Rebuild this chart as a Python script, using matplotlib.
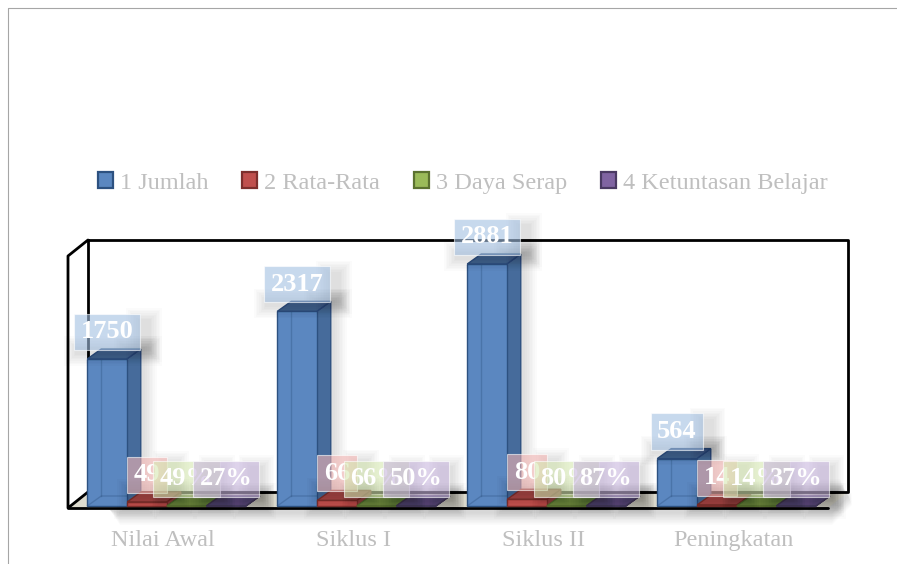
"""Clustered pseudo-3D column chart: Nilai Awal, Siklus I, Siklus II, Peningkatan."""

import matplotlib
matplotlib.use("Agg")
import matplotlib.pyplot as plt
import matplotlib.patches as mpatches

categories = ["Nilai Awal", "Siklus I", "Siklus II", "Peningkatan"]
series_names = ["1 Jumlah", "2 Rata-Rata", "3 Daya Serap", "4 Ketuntasan Belajar"]

jumlah = [1750, 2317, 2881, 564]
rata_rata = [49, 66, 80, 14]
daya_serap = [0.49, 0.66, 0.80, 0.14]
ketuntasan = [0.27, 0.50, 0.87, 0.37]

jumlah_labels = ["1750", "2317", "2881", "564"]
rata_labels = ["49", "66", "80", "14"]
daya_labels = ["49%", "66%", "80%", "14%"]
ketuntasan_labels = ["27%", "50%", "87%", "37%"]

all_values = [jumlah, rata_rata, daya_serap, ketuntasan]
all_labels = [jumlah_labels, rata_labels, daya_labels, ketuntasan_labels]

# front, side, top, edge, label box
SERIES_COLORS = [
    ("#5b87c0", "#466b9b", "#3f6491", "#2d5180", "#a3c0e2"),
    ("#c0504d", "#96403d", "#a64643", "#7d2f2c", "#f4b5b3"),
    ("#9bbb59", "#789145", "#6e8a3c", "#5c7230", "#d6e8b2"),
    ("#8064a2", "#63507e", "#5d4a78", "#4a3a63", "#c8b6de"),
]

GREY_TEXT = "#bfbfbf"
FONT = "Liberation Serif"

W, H = 897, 564
PX_X = 1 / 190          # one pixel in category units
PX_Y = 3000 / 252       # one pixel in value units
DEPTH_X = 14 * PX_X
DEPTH_Y = 10 * PX_Y
BAR_W = 39.5 * PX_X
SERIES_OFFSET = [-56 * PX_X, -16 * PX_X, 23.5 * PX_X, 63 * PX_X]

fig = plt.figure(figsize=(W / 100, H / 100), dpi=100, facecolor="white")

# backdrop in pixel units: outer border and chart frame
bg = fig.add_axes([0, 0, 1, 1], zorder=0)
bg.set_xlim(0, W)
bg.set_ylim(H, 0)
bg.axis("off")

bg.plot([8, 8, W], [H, 8, 8], color="#a6a6a6", linewidth=0.8)
for k in range(8):
    grow = (8 - k) * 1.6
    bg.add_patch(mpatches.Polygon(
        [(100, 508 - grow), (840, 492 - grow), (852, 492 + grow), (832, 512 + grow), (120, 512 + grow)],
        facecolor="black", alpha=0.018, edgecolor="none",
    ))
bg.add_patch(mpatches.Polygon([(68, 508), (88, 492), (848, 492), (828, 508)],
                              facecolor="#dedccf", edgecolor="none"))
for xs, ys in [
    ([88, 848, 848, 88, 88], [240, 240, 492, 492, 240]),
    ([88, 68, 68, 88], [240, 256, 508, 492]),
    ([68, 828], [508, 508]),
]:
    bg.plot(xs, ys, color="black", linewidth=2, solid_capstyle="round")

ax = fig.add_axes([68 / W, 1 - 506 / H, 760 / W, 252 / H], zorder=1)
ax.patch.set_alpha(0)
ax.set_xlim(-0.5, 3.5)
ax.set_ylim(0, 3000)
for spine in ax.spines.values():
    spine.set_visible(False)
ax.set_yticks([])
ax.set_xticks(range(len(categories)))
ax.set_xticklabels(categories, color=GREY_TEXT, fontsize=17.5, family=FONT)
ax.tick_params(axis="x", length=0, pad=17)


def soft_shadow(x0, y0, x1, y1, zorder, strength=0.014):
    for k in range(8):
        gx = (8 - k) * 1.6 * PX_X
        gy = (8 - k) * 1.6 * PX_Y
        ax.add_patch(mpatches.Rectangle(
            (x0 - gx, y0 - gy), x1 - x0 + 2 * gx, y1 - y0 + 2 * gy,
            facecolor="black", alpha=strength, edgecolor="none",
            zorder=zorder, clip_on=False,
        ))


def draw_column(x, value, colors, zorder):
    front, side, top, edge, _ = colors
    left, right = x - BAR_W / 2, x + BAR_W / 2
    soft_shadow(right, 0, right + DEPTH_X + 3 * PX_X, value + DEPTH_Y, zorder - 0.5)
    ax.add_patch(mpatches.Polygon(
        [(right, 0), (right + DEPTH_X, DEPTH_Y), (right + DEPTH_X, value + DEPTH_Y), (right, value)],
        facecolor=side, edgecolor=edge, linewidth=1, zorder=zorder, clip_on=False,
    ))
    ax.add_patch(mpatches.Polygon(
        [(left, value), (left + DEPTH_X, value + DEPTH_Y), (right + DEPTH_X, value + DEPTH_Y), (right, value)],
        facecolor=top, edgecolor=edge, linewidth=1, zorder=zorder, clip_on=False,
    ))
    ax.bar(x, value, width=BAR_W, color=front, edgecolor=edge, linewidth=1, zorder=zorder, clip_on=False)
    # hidden back edges showing through the glassy front
    if value > DEPTH_Y:
        ax.plot([left + DEPTH_X] * 2, [DEPTH_Y, value], color=edge, alpha=0.35, linewidth=1, zorder=zorder)
        ax.plot([left, left + DEPTH_X, right], [0, DEPTH_Y, DEPTH_Y], color=edge, alpha=0.35, linewidth=1, zorder=zorder)


z = 3
for cat_idx in range(len(categories)):
    for s_idx, values in enumerate(all_values):
        draw_column(cat_idx + SERIES_OFFSET[s_idx], values[cat_idx], SERIES_COLORS[s_idx], z)
        z += 1

# value labels on top of everything, later series over earlier ones
z = 50
for cat_idx in range(len(categories)):
    for s_idx, values in enumerate(all_values):
        x = cat_idx + SERIES_OFFSET[s_idx]
        text = all_labels[s_idx][cat_idx]
        half_w = (len(text) * 13.3 + 19) / 2 * PX_X
        mid = values[cat_idx] + 28 * PX_Y
        # shadow sits off to the lower right so the box itself stays pale
        soft_shadow(x + half_w - 4 * PX_X, mid - 18 * PX_Y, x + half_w + 6 * PX_X, mid + 10 * PX_Y, z)
        soft_shadow(x - half_w + 6 * PX_X, mid - 22 * PX_Y, x + half_w + 6 * PX_X, mid - 18 * PX_Y, z)
        z += 1
        ax.annotate(
            text, (x, values[cat_idx]), xytext=(0, 19.5), textcoords="offset points",
            ha="center", va="center", color="white", fontsize=19, fontweight="bold",
            family=FONT, zorder=z, annotation_clip=False,
            bbox=dict(boxstyle="square,pad=0.25", facecolor=SERIES_COLORS[s_idx][4],
                      edgecolor="#ffffff", alpha=0.6, linewidth=0.8),
        )
        z += 1

handles = [
    mpatches.Patch(facecolor=c[0], edgecolor=c[3], linewidth=1.6, label=name)
    for c, name in zip(SERIES_COLORS, series_names)
]
fig.legend(
    handles=handles, loc="center", bbox_to_anchor=(463 / W, 1 - 183 / H), ncol=4,
    frameon=False, handlelength=0.6, handleheight=0.6, handletextpad=0.3,
    columnspacing=1.4, labelcolor=GREY_TEXT,
    prop={"family": FONT, "size": 17.5},
)

fig.savefig("out.png", dpi=100, facecolor="white")
